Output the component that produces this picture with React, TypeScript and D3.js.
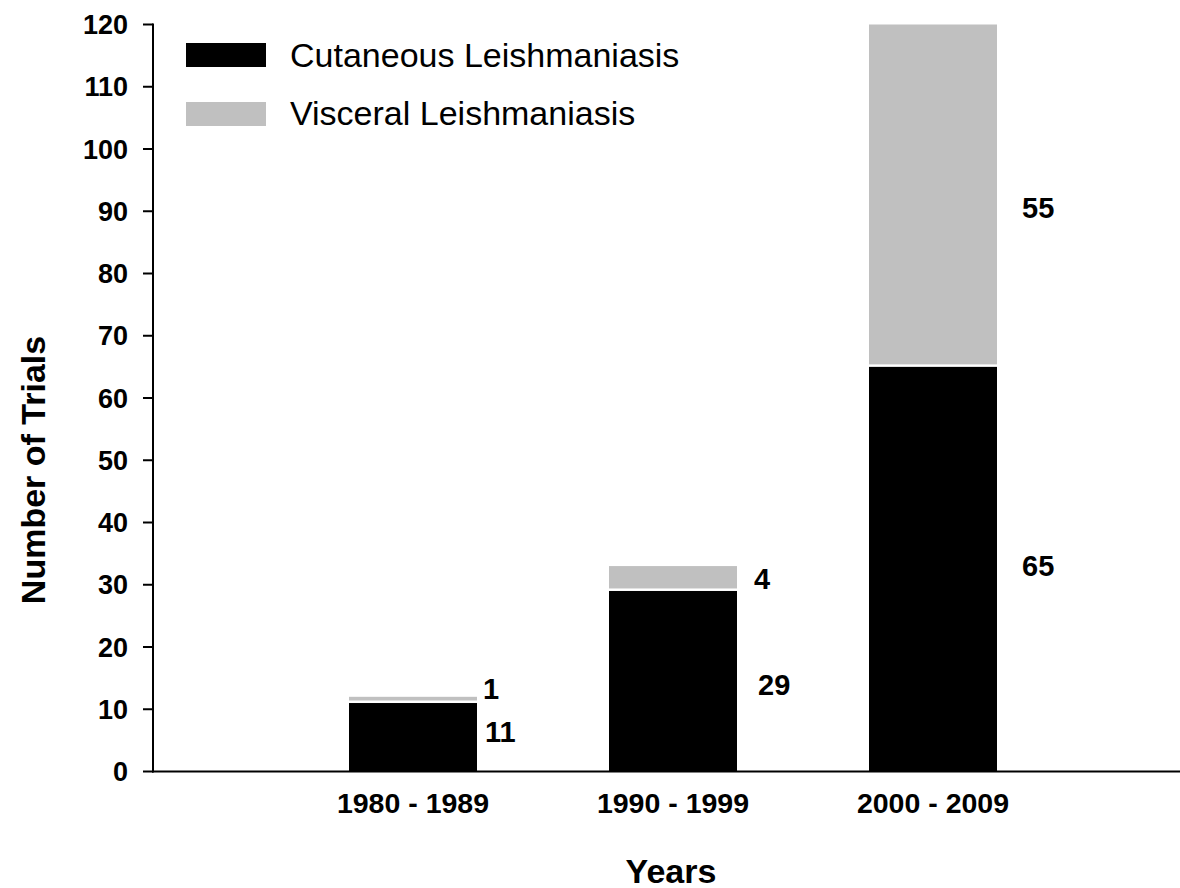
import React from "react";
import * as d3 from "d3";

const categories = ["1980 - 1989", "1990 - 1999", "2000 - 2009"];
const cutaneous = [11, 29, 65];
const visceral = [1, 4, 55];
const yTicks = [0, 10, 20, 30, 40, 50, 60, 70, 80, 90, 100, 110, 120];
const seriesNames = ["Cutaneous Leishmaniasis", "Visceral Leishmaniasis"];
const seriesColors = ["#000000", "#c0c0c0"];

const W = 1180;
const H = 888;
const FONT = "'Liberation Sans', Arial, Helvetica, sans-serif";

export default function App() {
  const x = d3
    .scalePoint<string>()
    .domain(["_a", ...categories, "_b"])
    .range([153, 1193]);
  const y = d3.scaleLinear().domain([0, 120]).range([771.5, 24.5]);
  const barW = 128;

  const stack = d3
    .stack<any>()
    .keys(["c", "v"])(categories.map((c, i) => ({ cat: c, c: cutaneous[i], v: visceral[i] })));

  // label placement tweaks (pixels), per category [cutaneous, visceral]
  const labelDx = [[8, 6], [21, 17], [25, 25]];
  const labelDy = [
    [-5.5, -11],
    [3, 0],
    [-4, 11.5],
  ];

  return (
    <svg width={W} height={H} style={{ position: "absolute", left: 0, top: 0, background: "#fff" }}>
      <rect x={0} y={0} width={W} height={H} fill="#fff" />
      {stack.map((layer, si) =>
        layer.map((d, i) => {
          const cx = x(categories[i])!;
          const top = y(d[1]);
          const bottom = y(d[0]) - (si === 1 ? 2.5 : 0);
          return (
            <rect
              key={`${si}-${i}`}
              x={cx - barW / 2}
              y={top}
              width={barW}
              height={Math.max(0, bottom - top)}
              fill={seriesColors[si]}
            />
          );
        })
      )}
      {stack.map((layer, si) =>
        layer.map((d, i) => {
          const cx = x(categories[i])!;
          const mid = (y(d[0]) + y(d[1])) / 2 + labelDy[i][si];
          return (
            <text
              key={`l-${si}-${i}`}
              x={cx + barW / 2 + labelDx[i][si]}
              y={mid}
              dy="0.36em"
              fontFamily={FONT}
              fontWeight="bold"
              fontSize={29}
              fill="#000"
            >
              {si === 0 ? cutaneous[i] : visceral[i]}
            </text>
          );
        })
      )}
      <line x1={153} x2={153} y1={y(120) - 1} y2={y(0) + 1} stroke="#000" strokeWidth={2} />
      {yTicks.map((t) => (
        <g key={t}>
          <line x1={143} x2={153} y1={y(t)} y2={y(t)} stroke="#000" strokeWidth={2} />
          <text
            x={128}
            y={y(t)}
            dy="0.36em"
            textAnchor="end"
            fontFamily={FONT}
            fontWeight="bold"
            fontSize={27}
            fill="#000"
          >
            {t}
          </text>
        </g>
      ))}
      <line x1={152} x2={1180} y1={y(0)} y2={y(0)} stroke="#000" strokeWidth={2} />
      {categories.map((c) => (
        <text
          key={c}
          x={x(c)!}
          y={813}
          textAnchor="middle"
          fontFamily={FONT}
          fontWeight="bold"
          fontSize={28.5}
          fill="#000"
        >
          {c}
        </text>
      ))}
      <text
        x={671}
        y={883}
        textAnchor="middle"
        fontFamily={FONT}
        fontWeight="bold"
        fontSize={34}
        fill="#000"
      >
        Years
      </text>
      <text
        transform={`translate(45, 470) rotate(-90)`}
        textAnchor="middle"
        fontFamily={FONT}
        fontWeight="bold"
        fontSize={34}
        fill="#000"
      >
        Number of Trials
      </text>
      {seriesNames.map((n, i) => (
        <g key={n}>
          <rect x={186} y={43 + i * 59} width={80} height={24} fill={seriesColors[i]} />
          <text x={290} y={67 + i * 57.5} fontFamily={FONT} fontSize={34} fill="#000">
            {n}
          </text>
        </g>
      ))}
    </svg>
  );
}
